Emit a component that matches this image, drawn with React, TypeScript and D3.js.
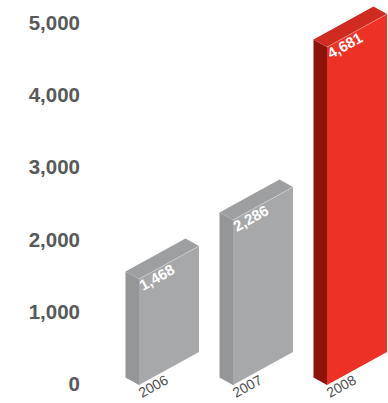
import React from "react";
import * as d3 from "d3";

const years = ["2006", "2007", "2008"];
const values = [1468, 2286, 4681];
const highlight = [false, false, true];
const yTicks = [0, 1000, 2000, 3000, 4000, 5000];

const W = 388;
const H = 403;

export default function App() {
  const x = d3.scaleBand<string>().domain(years).range([139, 421]).padding(0);
  const y = d3.scaleLinear().domain([0, 5000]).range([385, 24]);
  const fmt = d3.format(",");
  const barW = 60;
  const shear = 33;
  const dx = -13.5;
  const dy = -7.5;
  const base = y(0);
  const font = "'Liberation Sans', Arial, Helvetica, sans-serif";

  const grey = { front: "#a7a8aa", side: "#959698", top: "#9e9fa1" };
  const red = { front: "#ee3125", side: "#8c140a", top: "#d02b20" };

  const pts = (arr: number[][]) => arr.map((p) => p.join(",")).join(" ");

  return (
    <svg
      width={W}
      height={H}
      style={{ position: "absolute", left: 0, top: 0, background: "#fff" }}
    >
      {yTicks.map((t) => (
        <text
          key={t}
          x={80}
          y={y(t) - 1.5}
          textAnchor="end"
          dominantBaseline="central"
          fontFamily={font}
          fontWeight="bold"
          fontSize={20.5}
          fill="#58595b"
        >
          {fmt(t)}
        </text>
      ))}
      {years.map((yr, i) => {
        const xl = x(yr) as number;
        const xr = xl + barW;
        const top = y(values[i]);
        const c = highlight[i] ? red : grey;
        const front = [
          [xl, base],
          [xr, base - shear],
          [xr, top - shear],
          [xl, top],
        ];
        const side = [
          [xl, base],
          [xl, top],
          [xl + dx, top + dy],
          [xl + dx, base + dy],
        ];
        const topFace = [
          [xl, top],
          [xr, top - shear],
          [xr + dx, top - shear + dy],
          [xl + dx, top + dy],
        ];
        const lx = xl + 4;
        const ly = top + 12;
        const tx = xl + 3;
        const ty = 398;
        return (
          <g key={yr}>
            <polygon points={pts(side)} fill={c.side} />
            <polygon points={pts(topFace)} fill={c.top} />
            <polygon points={pts(front)} fill={c.front} />
            <line
              x1={xl}
              y1={top}
              x2={xr}
              y2={top - shear}
              stroke="#ffffff"
              strokeOpacity={0.35}
              strokeWidth={0.8}
            />
            <text
              x={lx}
              y={ly}
              transform={`rotate(-29 ${lx} ${ly})`}
              fontFamily={font}
              fontWeight="bold"
              fontSize={15}
              fill="#ffffff"
            >
              {fmt(values[i])}
            </text>
            <text
              x={tx}
              y={ty}
              transform={`rotate(-29 ${tx} ${ty})`}
              fontFamily={font}
              fontSize={14}
              fill="#4f4f4f"
            >
              {yr}
            </text>
          </g>
        );
      })}
    </svg>
  );
}
